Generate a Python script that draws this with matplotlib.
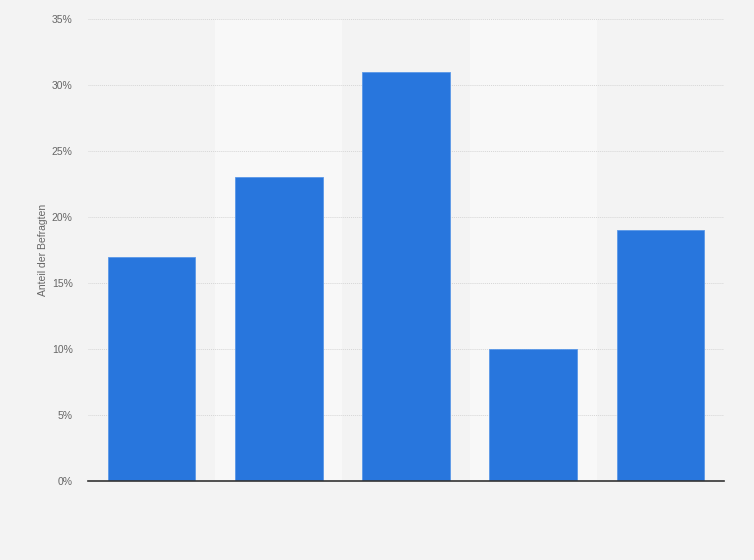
import matplotlib
matplotlib.use("Agg")
import matplotlib.pyplot as plt
from matplotlib.ticker import FuncFormatter

plt.rcParams["font.family"] = ["Liberation Sans", "DejaVu Sans"]

categories = ["A", "B", "C", "D", "E"]
values = [17, 23, 31, 10, 19]
yticks = [0, 5, 10, 15, 20, 25, 30, 35]

fig = plt.figure(figsize=(7.54, 5.6), dpi=100)
fig.patch.set_facecolor("#f3f3f3")
ax = fig.add_axes([88/754, 1-481/560, 636/754, 462/560])
ax.set_facecolor("#f3f3f3")

x = list(range(len(categories)))
for i in x:
    if i % 2 == 1:
        ax.axvspan(i - 0.5, i + 0.5, color="#f8f8f8", zorder=0, lw=0)

ax.bar(x, values, width=0.69, color="#2876dd", edgecolor="#5a98e8", linewidth=0.6, zorder=3)

ax.set_xlim(-0.5, len(categories) - 0.5)
ax.set_ylim(0, 35)
ax.set_yticks(yticks)
ax.yaxis.set_major_formatter(FuncFormatter(lambda v, p: f"{int(v)}%"))
ax.set_xticks([])
ax.grid(axis="y", color="#d6d6d6", linestyle=(0, (1, 1)), linewidth=0.7, zorder=1)
ax.set_axisbelow(True)
for s in ["top", "right", "left"]:
    ax.spines[s].set_visible(False)
ax.spines["bottom"].set_color("#333333")
ax.spines["bottom"].set_linewidth(1.2)
ax.spines["bottom"].set_zorder(4)
ax.tick_params(axis="y", length=0, labelsize=7.5, labelcolor="#666666", pad=11)
ax.set_ylabel("Anteil der Befragten", fontsize=7.5, color="#666666", labelpad=3)

fig.savefig("out.png", dpi=100, facecolor=fig.get_facecolor())
